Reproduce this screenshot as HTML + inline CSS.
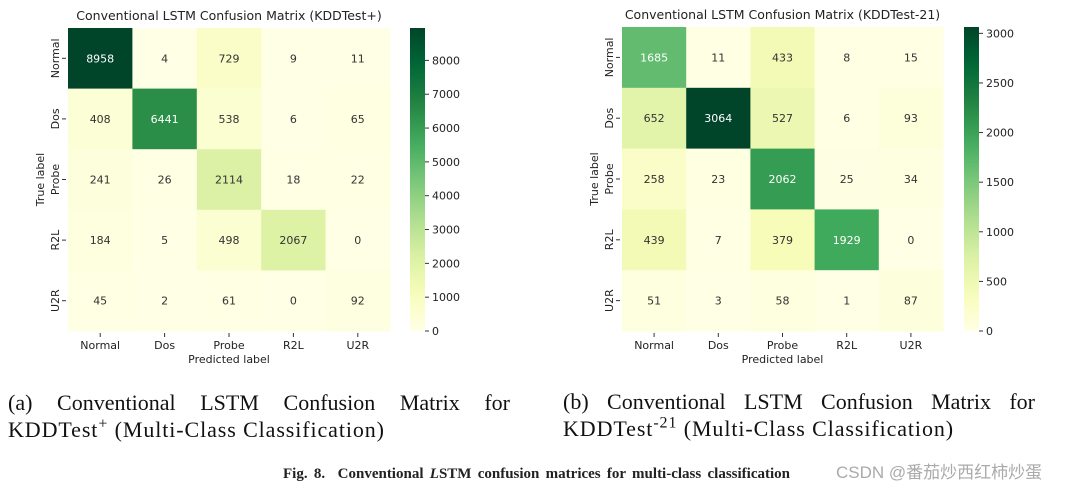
<!DOCTYPE html>
<html><head><meta charset="utf-8"><style>
body{margin:0;background:#fff;width:1077px;height:489px;overflow:hidden;position:relative;font-family:"DejaVu Sans",sans-serif}
.cap{position:absolute;font-family:"Liberation Serif",serif;font-size:22px;color:#111;line-height:27px}
.j{text-align:justify;text-align-last:justify}
</style></head><body>
<svg id="s" width="1077" height="489" style="position:absolute;left:0;top:0;font-family:'DejaVu Sans',sans-serif"></svg>
<div class="cap" style="left:8px;top:389px;width:502px"><div class="j">(a) Conventional LSTM Confusion Matrix for</div><div style="letter-spacing:0.9px">KDDTest<sup style="font-size:16px;line-height:0">+</sup> (Multi-Class Classification)</div></div>
<div class="cap" style="left:563px;top:388px;width:472px"><div class="j">(b) Conventional LSTM Confusion Matrix for</div><div style="letter-spacing:0.9px">KDDTest<sup style="font-size:16px;line-height:0">-21</sup> (Multi-Class Classification)</div></div>
<div style="position:absolute;left:283px;width:507px;top:466px;text-align:justify;text-align-last:justify;font-family:'Liberation Serif',serif;font-weight:bold;font-size:15px;color:#222">Fig. 8.&nbsp; Conventional <i>L</i>STM confusion matrices for multi-class classification</div>
<div style="position:absolute;left:836px;top:458px;font-family:'Liberation Sans','Noto Sans CJK SC',sans-serif;font-size:17px;color:#aaa">CSDN @番茄炒西红柿炒蛋</div>
<script>
const labels=["Normal","Dos","Probe","R2L","U2R"];
const matrixA=[[8958,4,729,9,11],[408,6441,538,6,65],[241,26,2114,18,22],[184,5,498,2067,0],[45,2,61,0,92]];
const matrixB=[[1685,11,433,8,15],[652,3064,527,6,93],[258,23,2062,25,34],[439,7,379,1929,0],[51,3,58,1,87]];
const ticksA=[0,1000,2000,3000,4000,5000,6000,7000,8000];
const ticksB=[0,500,1000,1500,2000,2500,3000];
const titleA="Conventional LSTM Confusion Matrix (KDDTest+)";
const titleB="Conventional LSTM Confusion Matrix (KDDTest-21)";
const stops=["#ffffe5","#f7fcb9","#d9f0a3","#addd8e","#78c679","#41ab5d","#238443","#006837","#004529"];
function hx(h){return [1,3,5].map(i=>parseInt(h.substr(i,2),16));}
function cmap(t){t=Math.max(0,Math.min(1,t));const p=t*(stops.length-1),i=Math.min(stops.length-2,Math.floor(p)),f=p-i;const a=hx(stops[i]),b=hx(stops[i+1]);return a.map((v,k)=>Math.round(v+(b[k]-v)*f));}
const svg=document.getElementById('s');const NS="http://www.w3.org/2000/svg";
function el(t,a,txt){const e=document.createElementNS(NS,t);for(const k in a)e.setAttribute(k,a[k]);if(txt!=null)e.textContent=txt;svg.appendChild(e);return e;}
function draw(m,ticks,title,x0,x1,y0,y1,cbx,id){
 const max=Math.max(...m.flat());const cw=(x1-x0)/5,ch=(y1-y0)/5;
 const t=el('text',{x:(x0+x1)/2,y:y0-8,'text-anchor':'middle','font-size':12.5,fill:'#222'},title);
 
 m.forEach((row,r)=>row.forEach((v,c)=>{
  const col=cmap(v/max);
  const rc=el('rect',{x:x0+c*cw,y:y0+r*ch,width:cw+0.5,height:ch+0.5,fill:`rgb(${col})`});
  
  const lum=(0.299*col[0]+0.587*col[1]+0.114*col[2])/255;
  const tx=el('text',{x:x0+(c+.5)*cw,y:y0+(r+.5)*ch+4,'text-anchor':'middle','font-size':11,fill:lum<0.6?'#fff':'#333'},v);
  
 }));
 labels.forEach((l,i)=>{
  const x=x0+(i+.5)*cw;el('line',{x1:x,x2:x,y1:y1+2,y2:y1+6,stroke:'#333'});
  const a=el('text',{x:x,y:y1+18,'text-anchor':'middle','font-size':11,fill:'#222'},l);
  
  const y=y0+(i+.5)*ch;el('line',{x1:x0-6,x2:x0-2,y1:y,y2:y,stroke:'#333'});
  const b=el('text',{x:0,y:0,'text-anchor':'middle','font-size':11,fill:'#222',transform:`translate(${x0-9},${y}) rotate(-90)`},l);
  
 });
 const xl=el('text',{x:(x0+x1)/2,y:y1+32,'text-anchor':'middle','font-size':11,fill:'#222'},'Predicted label');
 
 const yl=el('text',{x:0,y:0,'text-anchor':'middle','font-size':11,fill:'#222',transform:`translate(${x0-24},${(y0+y1)/2}) rotate(-90)`},'True label');
 
 const gid='g'+id;const defs=el('defs',{});const lg=document.createElementNS(NS,'linearGradient');
 lg.setAttribute('id',gid);lg.setAttribute('x1',0);lg.setAttribute('x2',0);lg.setAttribute('y1',1);lg.setAttribute('y2',0);
 for(let i=0;i<=20;i++){const s=document.createElementNS(NS,'stop');s.setAttribute('offset',i/20);s.setAttribute('stop-color',`rgb(${cmap(i/20)})`);lg.appendChild(s);}
 defs.appendChild(lg);
 const cb=el('rect',{x:cbx,y:y0,width:15,height:y1-y0,fill:`url(#${gid})`});
 
 ticks.forEach(v=>{const y=y1-(y1-y0)*v/max;el('line',{x1:cbx+15,x2:cbx+19,y1:y,y2:y,stroke:'#333'});
  const tt=el('text',{x:cbx+22,y:y+4,'font-size':11,fill:'#222'},v);
  });
}
draw(matrixA,ticksA,titleA,68,390,28,331,410,'matrix-a');
draw(matrixB,ticksB,titleB,622,943,27,331,964,'matrix-b');
</script>
</body></html>
